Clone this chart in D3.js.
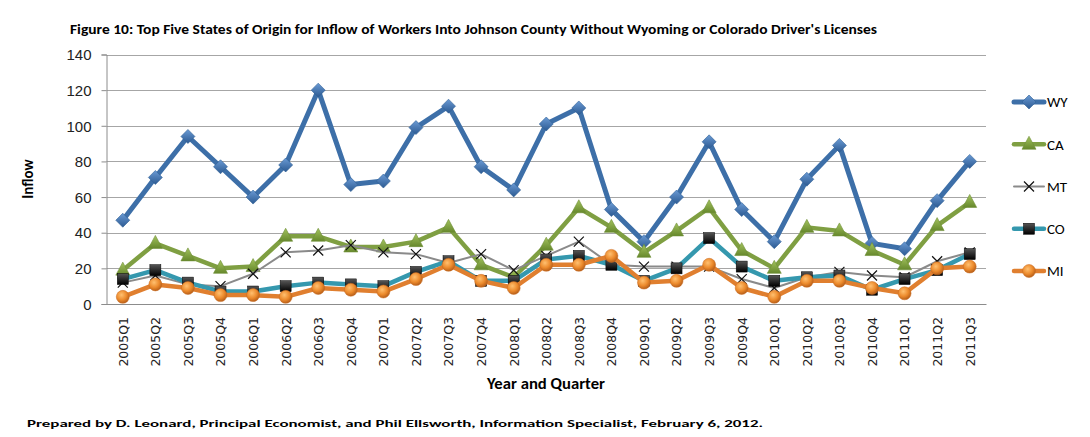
<!DOCTYPE html>
<html>
<head>
<meta charset="utf-8">
<script src="https://cdn.jsdelivr.net/npm/d3@7"></script>
<style>
  body { margin: 0; background: #fff; }
  svg { display: block; font-family: Carlito, Calibri, 'Liberation Sans', sans-serif; }
  .grid line { stroke: #a6a6a6; stroke-width: 1; }
  .axisY text { font-size: 15px; fill: #222; }
  .axisX text { font-family: 'DejaVu Sans', Verdana, sans-serif; font-size: 12.5px; fill: #222; }
</style>
</head>
<body>
<div id="chart"></div>
<script>
//Data
const quarters = ['2005Q1', '2005Q2', '2005Q3', '2005Q4', '2006Q1', '2006Q2', '2006Q3', '2006Q4',
    '2007Q1', '2007Q2', '2007Q3', '2007Q4', '2008Q1', '2008Q2', '2008Q3', '2008Q4',
    '2009Q1', '2009Q2', '2009Q3', '2009Q4', '2010Q1', '2010Q2', '2010Q3', '2010Q4',
    '2011Q1', '2011Q2', '2011Q3']
const wy = [47, 71, 94, 77, 60, 78, 120, 67, 69, 99, 111, 77, 64, 101, 110, 53, 35, 60, 91, 53, 35, 70, 89, 34, 31, 58, 80]
const ca = [19, 34, 27, 20, 21, 38, 38, 32, 32, 35, 43, 22, 15, 33, 54, 43, 29, 41, 54, 30, 20, 43, 41, 30, 22, 44, 57]
const mt = [12, 16, 11, 10, 17, 29, 30, 33, 29, 28, 23, 28, 19, 27, 35, 22, 21, 21, 21, 14, 9, 15, 18, 16, 15, 24, 29]
const co = [14, 19, 12, 7, 7, 10, 12, 11, 10, 18, 24, 13, 13, 25, 27, 22, 13, 20, 37, 21, 13, 15, 16, 8, 14, 19, 28]
const mi = [4, 11, 9, 5, 5, 4, 9, 8, 7, 14, 22, 13, 9, 22, 22, 27, 12, 13, 22, 9, 4, 13, 13, 9, 6, 20, 21]
const yTicks = [0, 20, 40, 60, 80, 100, 120, 140]

const seriesList = [
    { name: 'WY', values: wy, color: '#3d6fa8', width: 5, marker: 'diamond' },
    { name: 'CA', values: ca, color: '#7f9f42', width: 4.5, marker: 'triangle' },
    { name: 'MT', values: mt, color: '#8a8a8a', width: 2, marker: 'cross' },
    { name: 'CO', values: co, color: '#3598ae', width: 4.5, marker: 'square' },
    { name: 'MI', values: mi, color: '#e07f2f', width: 4.5, marker: 'circle' }
]

//Layout
const width = 1090
const height = 437
const plot = { left: 106.5, right: 986, top: 54.5, bottom: 304 }

const svg = d3.select('#chart')
    .append('svg')
svg
    .attr('width', width)
    .attr('height', height)

//Gradients for the markers
const defs = svg.append('defs')
function linearGrad(id, c1, c2) {
    const g = defs.append('linearGradient')
        .attr('id', id)
        .attr('x1', 0).attr('y1', 0).attr('x2', 0).attr('y2', 1)
    g.append('stop').attr('offset', '0%').attr('stop-color', c1)
    g.append('stop').attr('offset', '100%').attr('stop-color', c2)
}
linearGrad('gWY', '#6a9ad4', '#2c5a92')
linearGrad('gCA', '#a3c35e', '#66882c')
linearGrad('gCO', '#555555', '#000000')
const rg = defs.append('radialGradient')
    .attr('id', 'gMI')
    .attr('cx', '40%').attr('cy', '35%').attr('r', '65%')
rg.append('stop').attr('offset', '0%').attr('stop-color', '#ffc070')
rg.append('stop').attr('offset', '60%').attr('stop-color', '#ec8a2c')
rg.append('stop').attr('offset', '100%').attr('stop-color', '#b8601a')

//Scales
const x = d3.scalePoint()
    .domain(quarters)
    .range([plot.left, plot.right])
    .padding(0.5)
const y = d3.scaleLinear()
    .domain([0, 140])
    .range([plot.bottom, plot.top])

//Title
svg.append('text')
    .attr('x', 70)
    .attr('y', 34)
    .attr('font-size', 13.5)
    .attr('font-weight', 'bold')
    .attr('textLength', 807)
    .attr('lengthAdjust', 'spacingAndGlyphs')
    .text("Figure 10: Top Five States of Origin for Inflow of Workers Into Johnson County Without Wyoming or Colorado Driver's Licenses")

//Gridlines
const grid = svg.append('g').attr('class', 'grid')
grid.selectAll('line')
    .data(yTicks.filter(d => d > 0))
    .enter()
    .append('line')
    .attr('x1', plot.left)
    .attr('x2', plot.right)
    .attr('y1', d => Math.round(y(d)) + 0.5)
    .attr('y2', d => Math.round(y(d)) + 0.5)

//Axis Y
const axisY = d3.axisLeft(y).tickValues(yTicks).tickSize(5).tickPadding(10)
const gY = svg.append('g')
    .attr('class', 'axisY')
    .attr('transform', `translate(${plot.left}, 0)`)
    .call(axisY)
gY.select('.domain').attr('stroke', '#8c8c8c')
gY.selectAll('.tick line').attr('stroke', '#8c8c8c')
gY.selectAll('.tick text').attr('dy', '0.35em')

//Axis X
const axisX = d3.axisBottom(x).tickSize(0).tickPadding(0)
const gX = svg.append('g')
    .attr('class', 'axisX')
    .attr('transform', `translate(0, ${plot.bottom})`)
    .call(axisX)
gX.select('.domain').attr('stroke', '#8c8c8c')
gX.selectAll('.tick text')
    .attr('transform', 'rotate(-90)')
    .attr('text-anchor', 'end')
    .attr('x', -13)
    .attr('y', 0)
    .attr('dy', '0.35em')

//Axis titles
svg.append('text')
    .attr('transform', 'translate(33, 179) rotate(-90)')
    .attr('text-anchor', 'middle')
    .attr('font-size', 15)
    .attr('font-weight', 'bold')
    .text('Inflow')
svg.append('text')
    .attr('x', 546)
    .attr('y', 389)
    .attr('text-anchor', 'middle')
    .attr('font-size', 15)
    .attr('font-weight', 'bold')
    .attr('textLength', 118)
    .attr('lengthAdjust', 'spacingAndGlyphs')
    .text('Year and Quarter')

//Footer
svg.append('text')
    .attr('x', 27)
    .attr('y', 427)
    .attr('font-size', 10.5)
    .attr('font-weight', 'bold')
    .attr('textLength', 736)
    .attr('lengthAdjust', 'spacingAndGlyphs')
    .text('Prepared by D. Leonard, Principal Economist, and Phil Ellsworth, Information Specialist, February 6, 2012.')

//Marker drawing
function drawMarker(sel, type) {
    if (type === 'diamond') {
        sel.append('path')
            .attr('d', 'M0,-7L7,0L0,7L-7,0Z')
            .attr('fill', 'url(#gWY)')
            .attr('stroke', '#2f5f96')
            .attr('stroke-width', 0.6)
    } else if (type === 'triangle') {
        sel.append('path')
            .attr('d', 'M0,-8L7,5L-7,5Z')
            .attr('fill', 'url(#gCA)')
            .attr('stroke', '#6f8f38')
            .attr('stroke-width', 0.6)
    } else if (type === 'cross') {
        sel.append('path')
            .attr('d', 'M-5,-5L5,5M-5,5L5,-5')
            .attr('stroke', '#111')
            .attr('stroke-width', 1.2)
            .attr('fill', 'none')
    } else if (type === 'square') {
        sel.append('rect')
            .attr('x', -5.5).attr('y', -5.5)
            .attr('width', 11).attr('height', 11)
            .attr('fill', 'url(#gCO)')
            .attr('stroke', '#000')
            .attr('stroke-width', 0.5)
    } else {
        sel.append('circle')
            .attr('r', 6.5)
            .attr('fill', 'url(#gMI)')
            .attr('stroke', '#c86a20')
            .attr('stroke-width', 0.5)
    }
}

//Series
const line = d3.line()
    .x((d, i) => x(quarters[i]))
    .y(d => y(d))

seriesList.forEach(s => {
    const g = svg.append('g').attr('class', 'series')
    g.append('path')
        .attr('d', line(s.values))
        .attr('fill', 'none')
        .attr('stroke', s.color)
        .attr('stroke-width', s.width)
        .attr('stroke-linejoin', 'round')
        .attr('stroke-linecap', 'round')
    const marks = g.selectAll('.mark')
        .data(s.values)
        .enter()
        .append('g')
        .attr('class', 'mark')
        .attr('transform', (d, i) => `translate(${x(quarters[i])}, ${y(d)})`)
    drawMarker(marks, s.marker)
})

//Legend
const legendY = d3.scalePoint()
    .domain(seriesList.map(s => s.name))
    .range([102, 271])
const legend = svg.append('g').attr('class', 'legend')
seriesList.forEach(s => {
    const item = legend.append('g')
        .attr('transform', `translate(1029, ${legendY(s.name)})`)
    item.append('line')
        .attr('x1', -15).attr('x2', 15)
        .attr('stroke', s.color)
        .attr('stroke-width', s.width)
        .attr('stroke-linecap', 'round')
    drawMarker(item, s.marker)
    item.append('text')
        .attr('x', 18)
        .attr('dy', '0.35em')
        .attr('font-size', 15)
        .text(s.name)
})
</script>
</body>
</html>
